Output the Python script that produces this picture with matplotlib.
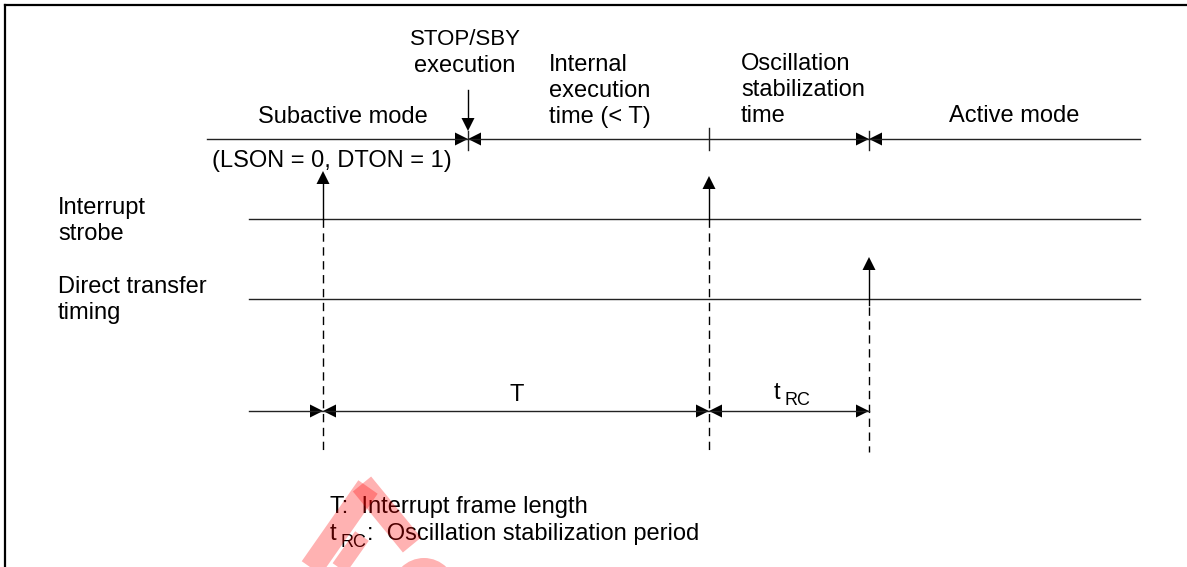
import matplotlib
matplotlib.use('Agg')
import matplotlib.pyplot as plt

# event times along the diagram (pixel scale of the original drawing)
irq_x = [323, 709]          # interrupt strobes
stop_x = 468                # STOP/SBY instruction executed
wake_x = 869                # direct transfer -> active mode
mode_line_x = [207, 1140]
signal_line_x = [249, 1140]
measure_start_x = 249

# row positions
y_mode = 139
y_strobe = 219
y_direct = 299
y_measure = 411
y_dash_end = 452

plt.rcParams['font.family'] = ['Liberation Sans', 'DejaVu Sans']
FS = 17
SUB = 13
LW = 1.0

fig = plt.figure(figsize=(11.87, 5.67), dpi=100)
ax = fig.add_axes([0, 0, 1, 1])
ax.set_xlim(0, 1187)
ax.set_ylim(567, 0)
ax.axis('off')

# frame (top + left only)
ax.plot([5, 1187], [5, 5], color='black', lw=1.6)
ax.plot([5, 5], [5, 567], color='black', lw=1.6)


def head(x, y, d, w=13, h=6.5):
    # filled triangle, tip at (x, y); d = 'r','l','u','d'
    if d == 'r':
        pts = [(x, y), (x - w, y - h), (x - w, y + h)]
    elif d == 'l':
        pts = [(x, y), (x + w, y - h), (x + w, y + h)]
    elif d == 'u':
        pts = [(x, y), (x - h, y + w), (x + h, y + w)]
    else:
        pts = [(x, y), (x - h, y - w), (x + h, y - w)]
    ax.fill([p[0] for p in pts], [p[1] for p in pts], color='black', lw=0)


def txt(x, y, s, ha='left', size=FS):
    ax.text(x, y, s, ha=ha, va='baseline', fontsize=size, color='black')


# mode time line
ax.plot(mode_line_x, [y_mode, y_mode], color='#222222', lw=LW)
for x in [stop_x, wake_x]:
    ax.plot([x, x], [y_mode - 8, y_mode + 11], color='#222222', lw=LW)
    head(x, y_mode, 'r')
    head(x, y_mode, 'l')
ax.plot([irq_x[1], irq_x[1]], [y_mode - 11, y_mode + 11], color='#222222', lw=LW)

# STOP/SBY execution arrow
ax.plot([stop_x, stop_x], [90, 122], color='black', lw=LW)
head(stop_x, 131, 'd')

# signal lines
ax.plot(signal_line_x, [y_strobe, y_strobe], color='#222222', lw=LW)
ax.plot(signal_line_x, [y_direct, y_direct], color='#222222', lw=LW)

# interrupt strobe arrows
for x, top in zip(irq_x, [171, 176]):
    ax.plot([x, x], [top + 10, y_strobe], color='black', lw=LW)
    head(x, top, 'u')
    ax.plot([x, x], [y_strobe, y_dash_end], color='black', lw=LW,
            dashes=(6, 4))

# direct transfer arrow
ax.plot([wake_x, wake_x], [267, y_direct + 6], color='black', lw=LW)
head(wake_x, 257, 'u')
ax.plot([wake_x, wake_x], [y_direct + 8, y_dash_end], color='black', lw=LW,
        dashes=(6, 4))

# measurement line
ax.plot([measure_start_x, wake_x], [y_measure, y_measure], color='#222222', lw=LW)
for x in irq_x:
    head(x, y_measure, 'r')
    head(x, y_measure, 'l')
head(wake_x, y_measure, 'r')

# labels
txt(465, 45, 'STOP/SBY', ha='center', size=16)
txt(465, 72, 'execution', ha='center')
txt(549, 71, 'Internal')
txt(549, 97, 'execution')
txt(549, 123, 'time (< T)')
txt(258, 123, 'Subactive mode')
txt(212, 167, '(LSON = 0, DTON = 1)')
txt(741, 70, 'Oscillation')
txt(741, 96, 'stabilization')
txt(741, 122, 'time')
txt(949, 122, 'Active mode')

txt(58, 214, 'Interrupt')
txt(58, 240, 'strobe')
txt(58, 293, 'Direct transfer')
txt(58, 319, 'timing')

txt(517, 401, 'T', ha='center')
txt(774, 399, 't')
txt(784, 405, 'RC', size=SUB)

txt(330, 513, 'T:  Interrupt frame length')
txt(330, 540, 't')
txt(340, 547, 'RC', size=SUB)
txt(367, 540, ':  Oscillation stabilization period')

# faint red watermark
wm = dict(color='red', alpha=0.3, solid_capstyle='butt', zorder=5)
ax.plot([310, 368], [570, 487], lw=17, **wm)
ax.plot([362, 412], [484, 545], lw=17, **wm)
ax.plot([338, 362], [570, 536], lw=12, **wm)
wc = plt.Circle((424, 590), 32, color='red', alpha=0.3, lw=0, zorder=5)
ax.add_patch(wc)

plt.savefig('out.png', dpi=100)
